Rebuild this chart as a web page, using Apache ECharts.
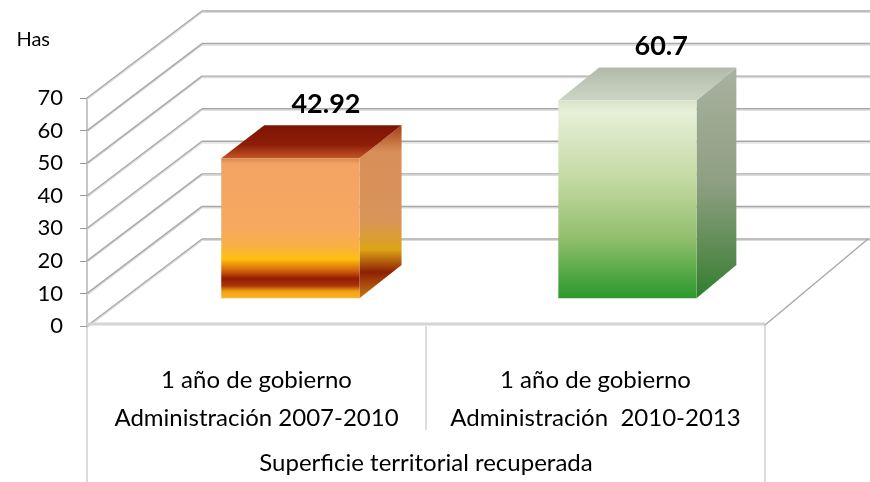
<!DOCTYPE html>
<html>
<head>
<meta charset="utf-8">
<script src="https://cdn.jsdelivr.net/npm/echarts@6/dist/echarts.min.js"></script>
<style>
  html, body { margin: 0; padding: 0; background: #fff; }
  #main { width: 870px; height: 482px; }
</style>
</head>
<body>
<div id="main"></div>
<script>
// datos
const categories = ['1 año de gobierno\nAdministración 2007-2010', '1 año de gobierno\nAdministración  2010-2013']
const values = [42.92, 60.7]
const yTicks = [0, 10, 20, 30, 40, 50, 60, 70]
const groupLabel = 'Superficie territorial recuperada'
const unitLabel = 'Has'

// profundidad del "3D" (px)
const DEPTH_XL = 115
const DEPTH_XR = 103
const DEPTH_Y = 87
const BAR_T0 = 0.32
const BAR_T1 = 0.70
const FONT = 'Lato, "Open Sans", sans-serif'

const faceStyles = [
  {
    front: [[0, '#d8864c'], [0.04, '#f3a363'], [0.5, '#f7a95f'], [0.63, '#f8b044'], [0.72, '#fec10c'],
            [0.8, '#d6660e'], [0.86, '#931c02'], [0.91, '#aa340b'], [0.95, '#f0a012'], [1, '#f7b52a']],
    top: [[0, '#7d1405'], [0.6, '#8e1e08'], [1, '#c25626']],
    side: [[0, '#a24016'], [0.15, '#d88e58'], [0.55, '#d8955a'], [0.72, '#dca416'], [0.85, '#8e2004'], [1, '#c87814']]
  },
  {
    front: [[0, '#d9e3c9'], [0.06, '#e6f0d7'], [0.4, '#c3d9a2'], [0.7, '#91be6c'], [0.9, '#4ba540'], [1, '#2c992d']],
    top: [[0, '#b2bbab'], [1, '#ccd4c4']],
    side: [[0, '#a8b2a0'], [0.5, '#8e9f82'], [0.8, '#5b8b51'], [1, '#2e7e2e']]
  }
]

function grad(stops) {
  return {
    type: 'linear', x: 0, y: 0, x2: 0, y2: 1,
    colorStops: stops.map(s => ({ offset: s[0], color: s[1] }))
  }
}

function geom(api) {
  const bw = api.size([1, 0])[0]
  const c0 = api.coord([0, 0])
  const x0 = c0[0] - bw / 2
  return { bw: bw, x0: x0, x1: x0 + bw * categories.length, yb: c0[1] }
}

function proj(g, x, y, t) {
  const f = (x - g.x0) / (g.x1 - g.x0)
  const dx = DEPTH_XL + (DEPTH_XR - DEPTH_XL) * f
  return [x + t * dx, y - t * DEPTH_Y]
}

function line(a, b, color, w) {
  return {
    type: 'line',
    shape: { x1: a[0], y1: a[1], x2: b[0], y2: b[1] },
    style: { stroke: color, lineWidth: w }
  }
}

function renderFrame(params, api) {
  const g = geom(api)
  const v = api.value(1)
  const y = api.coord([0, v])[1]
  const back = proj(g, g.x0, y, 1)
  const backEnd = [proj(g, g.x1, y, 1)[0] + 30, back[1]]
  const children = [
    line([g.x0, y + 1.5], [back[0], back[1] + 1.5], '#dadada', 1.2),
    line([back[0], back[1] + 1.5], [backEnd[0], backEnd[1] + 1.5], '#dadada', 1.2),
    line([g.x0, y], back, '#a8a8a8', 1.4),
    line(back, backEnd, '#a8a8a8', 1.4)
  ]
  if (params.dataIndex === 0) {
    const mid = g.x0 + g.bw
    children.push(
      line([g.x0, g.yb - 2], [g.x1, g.yb - 2], '#d4d4d4', 3),
      line([g.x1, g.yb - 1], proj(g, g.x1, g.yb, 1), '#a8a8a8', 1.4),
      line([g.x0, g.yb], [g.x0, g.yb + 160], '#b8b8b8', 1),
      line([mid, g.yb], [mid, g.yb + 104], '#b8b8b8', 1),
      line([g.x1, g.yb - 2], [g.x1, g.yb + 160], '#b8b8b8', 1)
    )
  }
  return { type: 'group', children: children }
}

function renderBar(params, api) {
  const g = geom(api)
  const i = api.value(0)
  const v = api.value(1)
  const top = api.coord([i, v])
  const base = api.coord([i, 0])
  const w = g.bw * 0.41
  const xl = top[0] - w / 2 - 2
  const xr = xl + w
  const st = faceStyles[i]
  const fTL = proj(g, xl, top[1], BAR_T0), fTR = proj(g, xr, top[1], BAR_T0)
  const fBR = proj(g, xr, base[1], BAR_T0), fBL = proj(g, xl, base[1], BAR_T0)
  const bTL = proj(g, xl, top[1], BAR_T1), bTR = proj(g, xr, top[1], BAR_T1)
  const bBR = proj(g, xr, base[1], BAR_T1)
  const lbl = proj(g, top[0], top[1], 0.62)
  return {
    type: 'group',
    children: [
      { type: 'polygon', shape: { points: [fTR, bTR, bBR, fBR] }, style: { fill: grad(st.side) } },
      { type: 'polygon', shape: { points: [bTL, bTR, fTR, fTL] }, style: { fill: grad(st.top) } },
      { type: 'polygon', shape: { points: [fTL, fTR, fBR, fBL] }, style: { fill: grad(st.front) } },
      {
        type: 'text',
        x: lbl[0], y: bTL[1] - 21,
        style: {
          text: String(v), fill: '#000', font: 'bold 27px ' + FONT,
          align: 'center', verticalAlign: 'middle'
        }
      }
    ]
  }
}

const chart = echarts.init(document.getElementById('main'), null, { renderer: 'canvas' })

chart.setOption({
  animation: false,
  backgroundColor: '#fff',
  grid: { left: 87, right: 105, top: 98, bottom: 156 },
  xAxis: {
    type: 'category',
    data: categories,
    axisLine: { show: false },
    axisTick: { show: false },
    axisLabel: { interval: 0, hideOverlap: false, margin: 35, lineHeight: 38, fontSize: 24, fontFamily: FONT, color: '#000' },
    name: groupLabel,
    nameLocation: 'middle',
    nameGap: 125,
    nameTextStyle: { fontSize: 24, fontFamily: FONT, color: '#000' }
  },
  yAxis: {
    type: 'value',
    min: 0, max: 70, interval: 10,
    axisLine: { show: true, lineStyle: { color: '#b3b3b3', width: 1.5 } },
    axisTick: { show: true, length: 7, lineStyle: { color: '#999' } },
    axisLabel: { margin: 24, fontSize: 22, fontFamily: FONT, color: '#000' },
    splitLine: { show: false },
    name: unitLabel,
    nameLocation: 'end',
    nameGap: 48,
    nameTextStyle: { fontSize: 20, fontFamily: FONT, color: '#000', align: 'right', padding: [0, 37, 0, 0] }
  },
  series: [
    {
      type: 'custom',
      renderItem: renderFrame,
      data: yTicks.map(v => [0, v]),
      silent: true,
      z: 1
    },
    {
      type: 'custom',
      renderItem: renderBar,
      data: values.map((v, i) => [i, v]),
      z: 2
    }
  ]
})
</script>
</body>
</html>
